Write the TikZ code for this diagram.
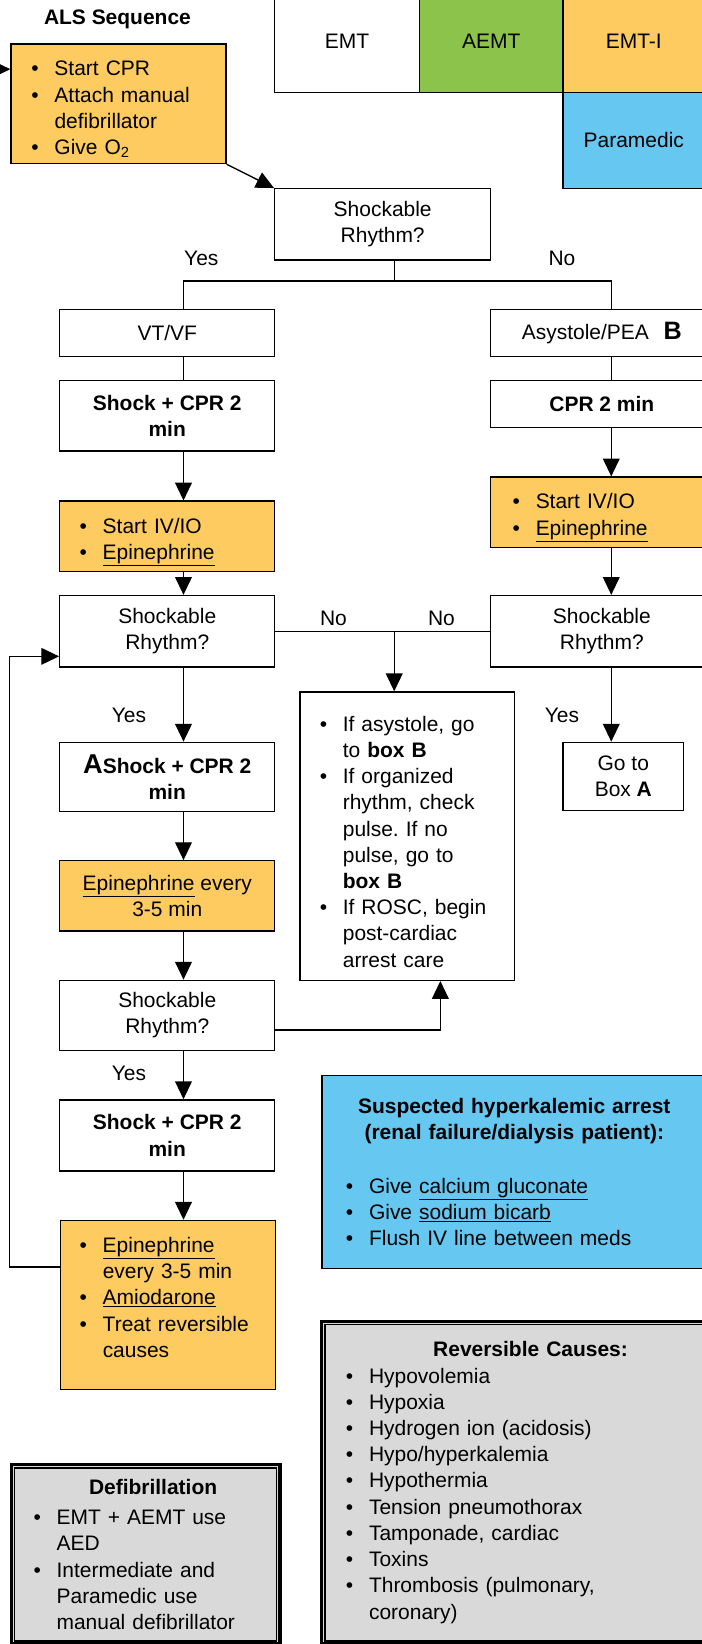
\documentclass[tikz,border=0pt]{standalone}
\usepackage{fontspec}
\setmainfont{Liberation Sans}
\usetikzlibrary{arrows.meta}

\definecolor{orangebox}{RGB}{253,203,95}
\definecolor{greenbox}{RGB}{140,195,74}
\definecolor{bluebox}{RGB}{102,199,240}
\definecolor{graybox}{RGB}{217,217,217}

\frenchspacing
\hyphenpenalty=10000
\newcommand{\itm}{\par\hangindent=22pt\hangafter=1\noindent\makebox[22pt][l]{\textbullet}}

\begin{document}
\begin{tikzpicture}[x=1pt, y=-1pt, font=\fontsize{20}{25}\selectfont,
    box/.style={draw, line width=1.3pt, inner sep=0pt, align=center, minimum width=205pt},
    lst/.style={box, align=left, inner xsep=19pt, text width=#1},
    arr/.style={-{Triangle[width=16pt,length=17pt]}, line width=1.3pt},
    ln/.style={line width=1.3pt}]
    \useasboundingbox (0,0) rectangle (669,1568);

    \coordinate (inlet) at (-30,66);
    \coordinate (fork) at (376,268);
    \coordinate (lcol) at (175,0);
    \coordinate (rcol) at (583,0);
    \coordinate (upx) at (420,0);
    \coordinate (loopc) at (9,626);

    \node[font=\fontsize{20}{25}\selectfont\bfseries] (als) at (112,18) {ALS Sequence};
    \node[lst=166pt, fill=orangebox, minimum height=114pt] (start) at (113,99)
        {\itm Start CPR \itm Attach manual\newline defibrillator \itm Give O\textsubscript{2}\par};

    \node[box, minimum width=138pt, minimum height=98pt] (emt) at (331,39) {EMT};
    \node[box, fill=greenbox, minimum width=137pt, minimum height=98pt] (aemt) at (468.5,39) {AEMT};
    \node[box, fill=orangebox, minimum width=135pt, minimum height=98pt] (emti) at (604.5,39) {EMT-I};
    \node[box, fill=bluebox, minimum width=135pt, minimum height=92pt] (para) at (604.5,134) {Paramedic};

    \node[box, minimum width=206pt, minimum height=68pt] (shk0) at (365,214) {Shockable\\Rhythm?};

    % left column
    \node[box, minimum height=45pt] (vtvf) at (159.5,317.5) {VT/VF};
    \node[box, minimum height=67pt, font=\fontsize{20}{25}\selectfont\bfseries] (shk1) at (159.5,396.5) {Shock + CPR 2\\min};
    \node[lst=167pt, fill=orangebox, minimum height=67pt] (ivL) at (159.5,511.5)
        {\itm Start IV/IO \itm \underline{Epinephrine}\par};
    \node[box, minimum height=68pt] (rhyL) at (159.5,602) {Shockable\\Rhythm?};
    \node[box, minimum height=66pt, font=\fontsize{20}{25}\selectfont\bfseries] (shkA) at (159.5,741)
        {{\fontsize{26}{25}\selectfont A}Shock + CPR 2\\min};
    \node[box, fill=orangebox, minimum height=67pt] (epi) at (159.5,854.5) {\underline{Epinephrine} every\\3-5 min};
    \node[box, minimum height=67pt] (rhy3) at (159.5,968.5) {Shockable\\Rhythm?};
    \node[box, minimum height=68pt, font=\fontsize{20}{25}\selectfont\bfseries] (shk2) at (159.5,1083) {Shock + CPR 2\\min};
    \node[lst=169pt, fill=orangebox, inner xsep=18pt, minimum height=161pt] (fin) at (160.5,1244.5)
        {\itm \underline{Epinephrine}\newline every 3-5 min \itm \underline{Amiodarone} \itm Treat reversible\newline causes\par\mbox{}\par};

    % right column
    \node[box, minimum width=212pt, minimum height=45pt] (asys) at (574,317.5)
        {Asystole/PEA\hspace{14pt}{\bfseries\fontsize{24}{25}\selectfont B}};
    \node[box, minimum width=212pt, minimum height=45pt, font=\fontsize{20}{25}\selectfont\bfseries] (cpr) at (574,385.5) {CPR 2 min};
    \node[lst=170pt, fill=orangebox, inner xsep=21pt, minimum height=67pt] (ivR) at (574,488.5)
        {\itm Start IV/IO \itm \underline{Epinephrine}\par};
    \node[box, minimum width=212pt, minimum height=68pt] (rhyR) at (574,602) {Shockable\\Rhythm?};
    \node[box, minimum width=115pt, minimum height=65pt] (gotoA) at (594.5,740.5) {Go to\\Box \textbf{A}};

    \node[lst=167pt, minimum height=275pt] (ifbox) at (388.5,797.5)
        {\itm If asystole, go\newline to \textbf{box B} \itm If organized\newline rhythm, check\newline pulse. If no\newline pulse, go to\newline \textbf{box B} \itm If ROSC, begin\newline post-cardiac\newline arrest care\par};

    % side boxes
    \node[lst=321pt, fill=bluebox, inner xsep=23pt, minimum height=184pt] (hyperk) at (490.5,1118)
        {{\centering\bfseries Suspected hyperkalemic arrest\\(renal failure/dialysis patient):\par}\vspace{26pt}%
         \itm Give \underline{calcium gluconate} \itm Give \underline{sodium bicarb} \itm Flush IV line between meds\par};
    \node[lst=352pt, fill=graybox, inner xsep=23pt, minimum height=308pt, line width=3pt] (rev) at (506,1414)
        {{\centering\bfseries Reversible Causes:\par}\itm Hypovolemia \itm Hypoxia \itm Hydrogen ion (acidosis)
         \itm Hypo/hyperkalemia \itm Hypothermia \itm Tension pneumothorax \itm Tamponade, cardiac
         \itm Toxins \itm Thrombosis (pulmonary,\newline coronary)\par};
    \node[lst=214pt, fill=graybox, inner xsep=21pt, minimum height=171pt, line width=3pt] (defib) at (139,1482.5)
        {{\centering\bfseries\hspace*{14pt}Defibrillation\par}\vspace{4pt}\itm EMT + AEMT use\newline AED
         \itm Intermediate and\newline Paramedic use\newline manual defibrillator\par};
    \foreach \b in {rev,defib}
        \draw[ln] ([shift={(4.5pt,4.5pt)}]\b.south west) rectangle ([shift={(-4.5pt,-4.5pt)}]\b.north east);

    \node (yes1) at (192,246) {Yes};
    \node (no1) at (536,246) {No};
    \node (no2) at (318,590) {No};
    \node (no3) at (421,590) {No};
    \node (yes2) at (123,682) {Yes};
    \node (yes3) at (536,682) {Yes};
    \node (yes4) at (123,1024) {Yes};

    \draw[arr] (inlet) -- (inlet -| start.west);
    \draw[arr] (start.south east) -- (shk0.north west);
    \draw[ln] (shk0.south -| fork) -- (fork);
    \draw[ln] (vtvf.north -| lcol) |- (fork) -| (asys.north -| rcol);
    \draw[ln] (vtvf.south -| lcol) -- (shk1.north -| lcol);
    \draw[ln] (asys.south -| rcol) -- (cpr.north -| rcol);
    \foreach \a/\b in {shk1/ivL, ivL/rhyL, rhyL/shkA, shkA/epi, epi/rhy3, rhy3/shk2, shk2/fin}
        \draw[arr] (\a.south -| lcol) -- (\b.north -| lcol);
    \foreach \a/\b in {cpr/ivR, ivR/rhyR, rhyR/gotoA}
        \draw[arr] (\a.south -| rcol) -- (\b.north -| rcol);
    \draw[ln] (rhyL.east) -- (rhyR.west);
    \draw[arr] (rhyL.east -| fork) -- (ifbox.north -| fork);
    \draw[arr] ([yshift=-14pt]rhy3.east) -| (ifbox.south -| upx);
    \draw[arr] ([yshift=36pt]fin.west) -| (loopc) |- ([yshift=-24pt]rhyL.west);
\end{tikzpicture}
\end{document}
